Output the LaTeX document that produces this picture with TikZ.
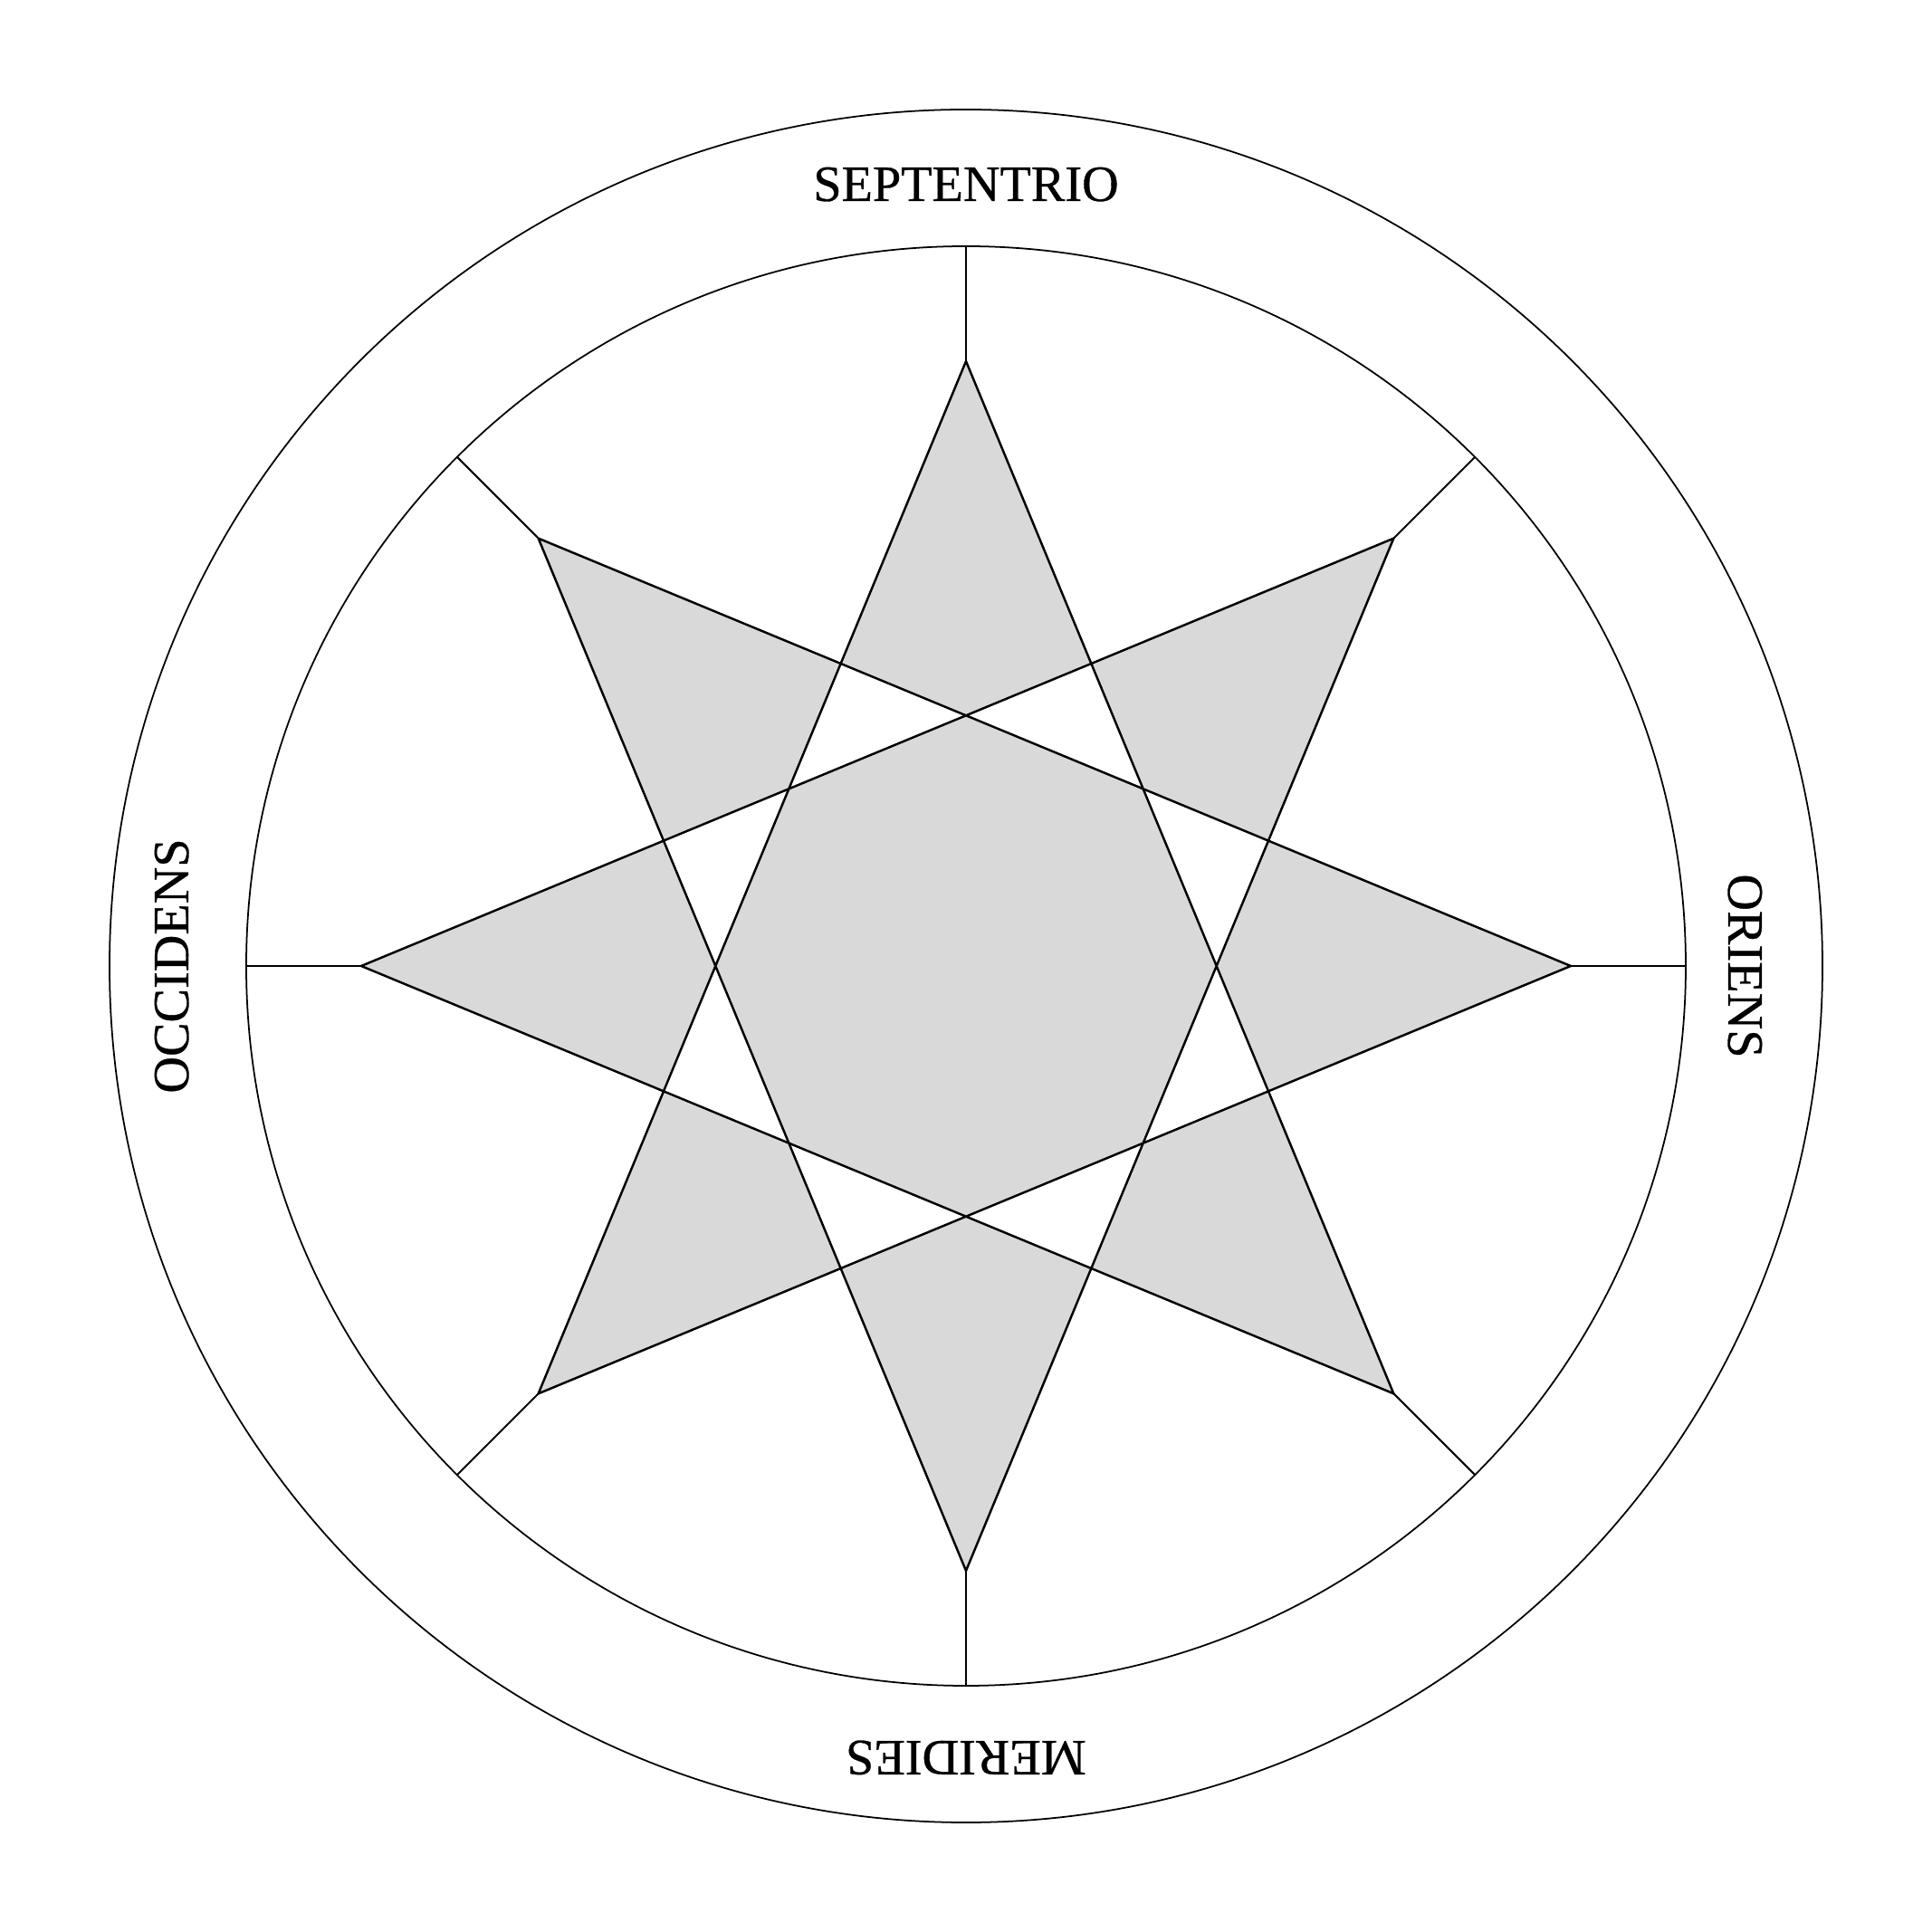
\documentclass[tikz,border=0pt]{standalone}
\usepackage{fontspec}
\setmainfont{Liberation Serif}
\newfontfamily\labelfont[FakeBold=0.6]{Liberation Serif}
\definecolor{starfill}{RGB}{217,217,217}
\tikzset{
  ring/.style={draw=black, line width=0.5pt},
  starline/.style={draw=black, line width=0.7pt, line join=miter},
  ray/.style={draw=black, line width=0.6pt},
  label/.style={font=\labelfont\fontsize{16}{19}\selectfont, anchor=base, inner sep=0pt}
}
\begin{document}
\begin{tikzpicture}
\useasboundingbox[fill=white] (-10.67,-10.67) rectangle (10.67,10.67);
\coordinate (c) at (0,0);
\draw[ring] (c) circle (9.46);
\draw[ring] (c) circle (7.95);
% star vertices and ray ends
\foreach \k in {0,...,7} {
  \coordinate (p\k) at (90-45*\k:6.68);
  \coordinate (q\k) at (90-45*\k:7.95);
}
\path[starline, fill=starfill, even odd rule]
  (p0) -- (p3) -- (p6) -- (p1) -- (p4) -- (p7) -- (p2) -- (p5) -- cycle;
\foreach \k in {0,...,7} {
  \draw[ray] (p\k) -- (q\k);
}
\node[label] (north) at (90:8.45) {SEPTENTRIO};
\node[label, rotate=-90] (east) at (0:8.42) {ORIENS};
\node[label, rotate=180] (south) at (270:8.56) {MERIDIES};
\node[label, rotate=90] (west) at (180:8.59) {OCCIDENS};
\end{tikzpicture}
\end{document}
